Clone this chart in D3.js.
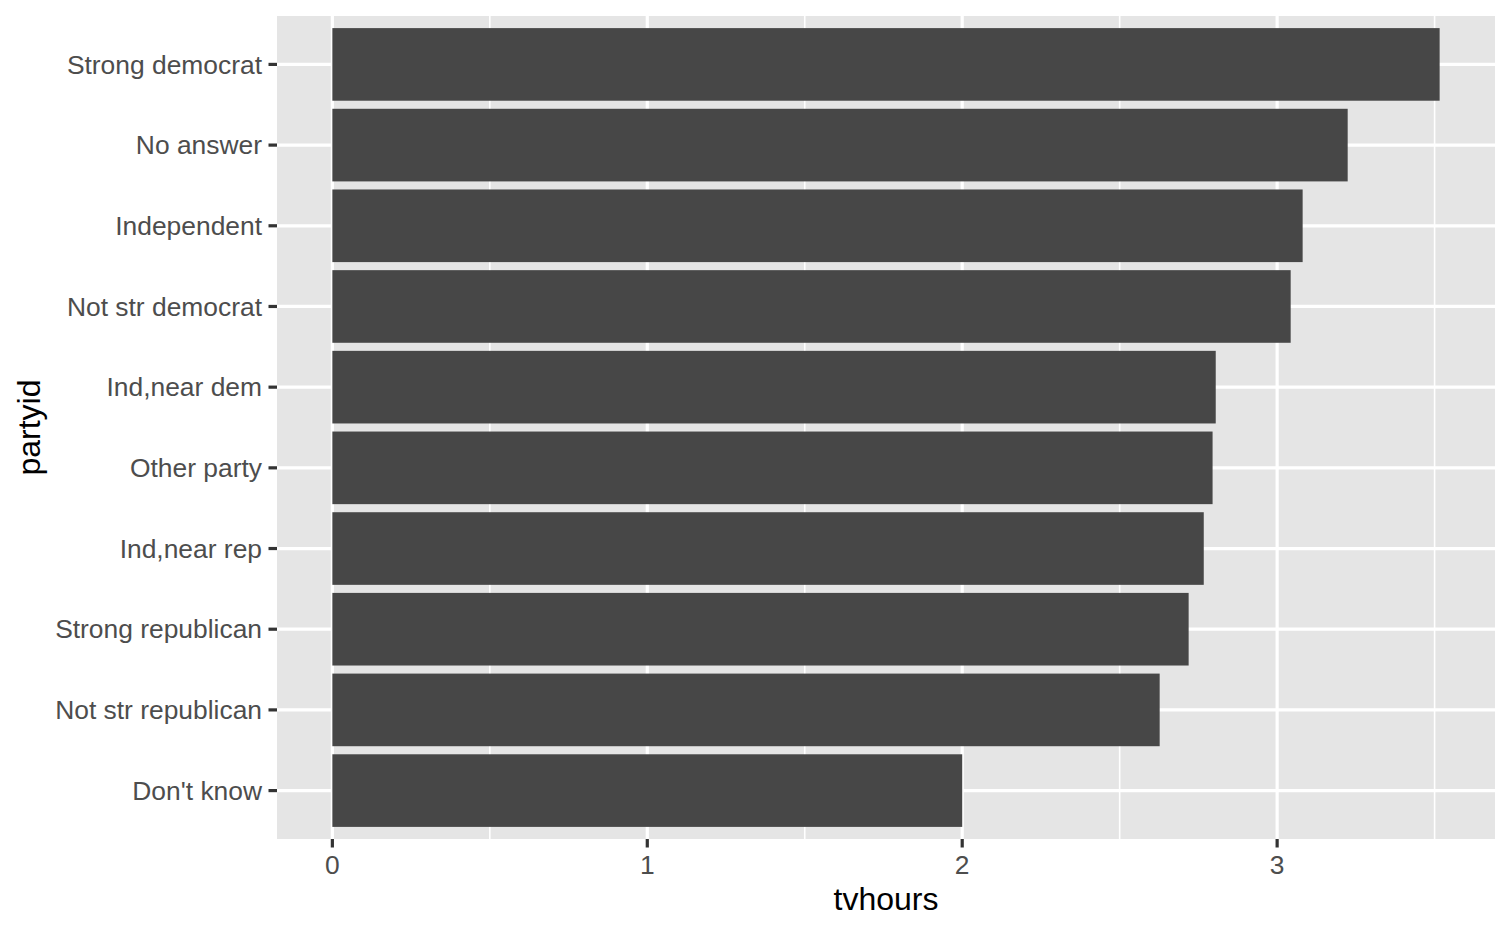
<!DOCTYPE html>
<html>
<head>
<meta charset="utf-8">
<script src="https://cdn.jsdelivr.net/npm/d3@7"></script>
<style>
  html, body { margin: 0; padding: 0; background: #ffffff; }
  svg { display: block; }
  text { font-family: "Liberation Sans", Arial, Helvetica, sans-serif; }
</style>
</head>
<body>
<script>
// Data
const categories = [
  "Strong democrat", "No answer", "Independent", "Not str democrat",
  "Ind,near dem", "Other party", "Ind,near rep", "Strong republican",
  "Not str republican", "Don't know"
];
const tvhours = [3.516, 3.224, 3.081, 3.043, 2.805, 2.795, 2.767, 2.719, 2.627, 2.000];
const xTicks = [0, 1, 2, 3];
const xMinor = [0.5, 1.5, 2.5, 3.5];
const xTitle = "tvhours";
const yTitle = "partyid";

const W = 1512, H = 934;
const panel = { left: 277, top: 16, right: 1495, bottom: 839 };

const svg = d3.select("body").append("svg").attr("width", W).attr("height", H);

const xMax = d3.max(tvhours);
const x = d3.scaleLinear()
  .domain([-0.05 * xMax, xMax * 1.05])
  .range([panel.left, panel.right]);

const n = categories.length;
// ggplot discrete expansion: 0.6 units each side, bar width 0.9
const yc = d3.scaleLinear().domain([0.4, n + 0.6]).range([panel.top, panel.bottom]);
const yPos = (c) => yc(categories.indexOf(c) + 1);
const step = yc(2) - yc(1);
const barH = step * 0.9;

// panel background
svg.append("rect")
  .attr("x", panel.left).attr("y", panel.top)
  .attr("width", panel.right - panel.left).attr("height", panel.bottom - panel.top)
  .attr("fill", "#E5E5E5");

const grid = svg.append("g");
// minor vertical grid
grid.selectAll("line.minor").data(xMinor).enter().append("line")
  .attr("x1", d => x(d)).attr("x2", d => x(d))
  .attr("y1", panel.top).attr("y2", panel.bottom)
  .attr("stroke", "#ffffff").attr("stroke-width", 1.6);
// major vertical grid
grid.selectAll("line.majx").data(xTicks).enter().append("line")
  .attr("x1", d => x(d)).attr("x2", d => x(d))
  .attr("y1", panel.top).attr("y2", panel.bottom)
  .attr("stroke", "#ffffff").attr("stroke-width", 3.2);
// major horizontal grid
grid.selectAll("line.majy").data(categories).enter().append("line")
  .attr("x1", panel.left).attr("x2", panel.right)
  .attr("y1", d => yPos(d)).attr("y2", d => yPos(d))
  .attr("stroke", "#ffffff").attr("stroke-width", 3.2);

// bars
svg.append("g").selectAll("rect").data(categories).enter().append("rect")
  .attr("x", x(0))
  .attr("y", d => yPos(d) - barH / 2)
  .attr("width", (d, i) => x(tvhours[i]) - x(0))
  .attr("height", barH)
  .attr("fill", "#474747");

// y axis ticks and labels
const yAxis = svg.append("g");
yAxis.selectAll("line").data(categories).enter().append("line")
  .attr("x1", panel.left - 8.5).attr("x2", panel.left)
  .attr("y1", d => yPos(d)).attr("y2", d => yPos(d))
  .attr("stroke", "#333333").attr("stroke-width", 3.2);
yAxis.selectAll("text").data(categories).enter().append("text")
  .attr("x", panel.left - 15)
  .attr("y", d => yPos(d))
  .attr("dy", "0.35em")
  .attr("text-anchor", "end")
  .attr("font-size", 26.4)
  .attr("fill", "#4D4D4D")
  .text(d => d);

// x axis ticks and labels
const xAxis = svg.append("g");
xAxis.selectAll("line").data(xTicks).enter().append("line")
  .attr("x1", d => x(d)).attr("x2", d => x(d))
  .attr("y1", panel.bottom).attr("y2", panel.bottom + 8.5)
  .attr("stroke", "#333333").attr("stroke-width", 3.2);
xAxis.selectAll("text").data(xTicks).enter().append("text")
  .attr("x", d => x(d))
  .attr("y", 874)
  .attr("text-anchor", "middle")
  .attr("font-size", 26.4)
  .attr("fill", "#4D4D4D")
  .text(d => d3.format("d")(d));

// axis titles
svg.append("text")
  .attr("x", (panel.left + panel.right) / 2)
  .attr("y", 910)
  .attr("text-anchor", "middle")
  .attr("font-size", 32)
  .attr("fill", "#000000")
  .text(xTitle);

svg.append("text")
  .attr("transform", `translate(40, ${(panel.top + panel.bottom) / 2}) rotate(-90)`)
  .attr("text-anchor", "middle")
  .attr("font-size", 32)
  .attr("fill", "#000000")
  .text(yTitle);
</script>
</body>
</html>
